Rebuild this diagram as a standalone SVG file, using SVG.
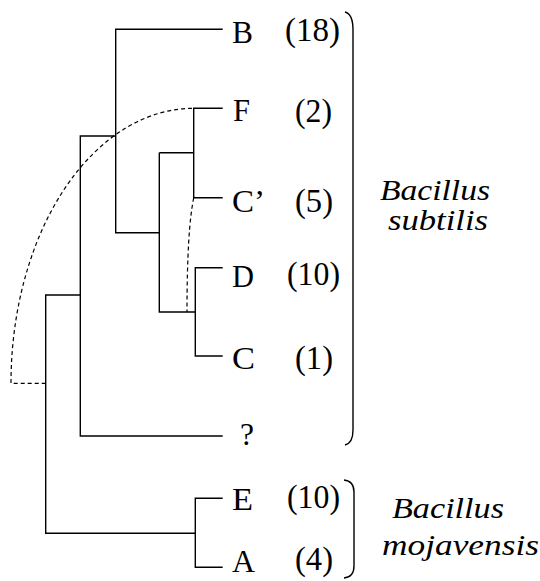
<svg xmlns="http://www.w3.org/2000/svg" width="540" height="581" viewBox="0 0 540 581" font-family="Liberation Serif, Times New Roman, serif">
<style>
.br{fill:none;stroke:#000;stroke-width:1.4}
.dash{fill:none;stroke:#000;stroke-width:1.2;stroke-dasharray:4 3}
.lb{font-size:31px}
.nm{font-size:34px}
.sp{font-size:29px;font-style:italic}
</style>
<rect width="540" height="581" fill="#fff"/>
<g id="connectors">
<path class="br" d="M222.7,29.3 H115.7 V232.7 H159.3"/>
<path class="br" d="M115.7,136 H80.3 V436 H222.7"/>
<path class="br" d="M80.3,295 H45.7 V533.3 H195.3"/>
<path class="br" d="M159.3,152.7 V312 H195.3"/>
<path class="br" d="M159.3,152.7 H193.7"/>
<path class="br" d="M222.7,108.3 H193.7 V197.7 H222.7"/>
<path class="br" d="M222.7,267.7 H195.3 V356 H222.7"/>
<path class="br" d="M222.7,498.3 H195.3 V567.3 H222.7"/>
<path class="dash" d="M45.7,383.3 H11 A182.7,275 0 0 1 193.7,108.3"/>
<path class="dash" d="M193.7,198 Q187,230 187,312"/>
</g>
<g id="node-B"><text class="lb" x="232" y="43" textLength="21" lengthAdjust="spacingAndGlyphs">B</text><text class="nm" x="285" y="41" textLength="55" lengthAdjust="spacingAndGlyphs">(18)</text></g>
<g id="node-F"><text class="lb" x="233" y="121" textLength="17" lengthAdjust="spacingAndGlyphs">F</text><text class="nm" x="295" y="122" textLength="37" lengthAdjust="spacingAndGlyphs">(2)</text></g>
<g id="node-Cp"><text class="lb" x="232" y="212" textLength="33" lengthAdjust="spacingAndGlyphs">C’</text><text class="nm" x="295" y="212" textLength="38" lengthAdjust="spacingAndGlyphs">(5)</text></g>
<g id="node-D"><text class="lb" x="232" y="287" textLength="22" lengthAdjust="spacingAndGlyphs">D</text><text class="nm" x="287" y="285" textLength="53" lengthAdjust="spacingAndGlyphs">(10)</text></g>
<g id="node-C"><text class="lb" x="232" y="369" textLength="23" lengthAdjust="spacingAndGlyphs">C</text><text class="nm" x="295" y="369" textLength="38" lengthAdjust="spacingAndGlyphs">(1)</text></g>
<g id="node-Q"><text class="lb" x="240" y="445" textLength="14" lengthAdjust="spacingAndGlyphs">?</text></g>
<g id="node-E"><text class="lb" x="232" y="510" textLength="21" lengthAdjust="spacingAndGlyphs">E</text><text class="nm" x="287" y="508" textLength="53" lengthAdjust="spacingAndGlyphs">(10)</text></g>
<g id="node-A"><text class="lb" x="232" y="572" textLength="23" lengthAdjust="spacingAndGlyphs">A</text><text class="nm" x="295" y="570" textLength="38" lengthAdjust="spacingAndGlyphs">(4)</text></g>
<g id="group-subtilis">
<path class="br" d="M345,12 Q353,14 353,30 V430 Q353,443 345,445"/>
<text class="sp" x="380" y="200" textLength="110" lengthAdjust="spacingAndGlyphs">Bacillus</text>
<text class="sp" x="388" y="230" textLength="100" lengthAdjust="spacingAndGlyphs">subtilis</text>
</g>
<g id="group-mojavensis">
<path class="br" d="M344,480 Q354,481 354,492 V566 Q354,577 344,578"/>
<text class="sp" x="392" y="518" textLength="112" lengthAdjust="spacingAndGlyphs">Bacillus</text>
<text class="sp" x="382" y="555" textLength="157" lengthAdjust="spacingAndGlyphs">mojavensis</text>
</g>
</svg>
